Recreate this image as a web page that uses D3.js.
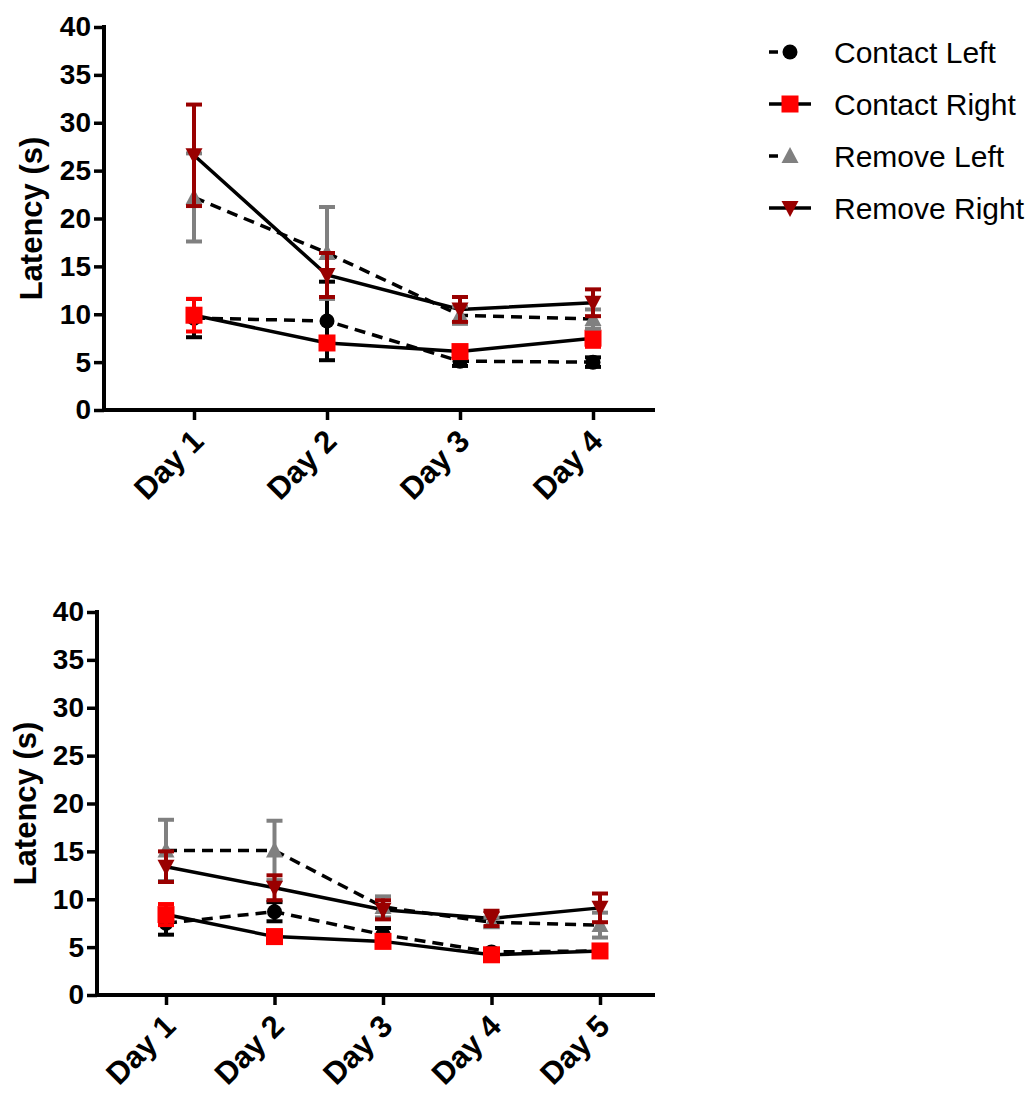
<!DOCTYPE html>
<html>
<head>
<meta charset="utf-8">
<script src="https://cdn.jsdelivr.net/npm/d3@7"></script>
<style>
	body { margin: 0; background: #fff; }
	svg { display: block; font-family: 'Liberation Sans', Arial, sans-serif; }
</style>
</head>
<body>
<svg id="chart" width="1029" height="1099"></svg>
<script>
// Top panel (4 days)
const daysTop = ['Day 1', 'Day 2', 'Day 3', 'Day 4'];
const topContactLeft = [9.6, 9.3, 5.1, 5.0];
const topContactLeftErr = [2.0, 4.1, 0.5, 0.5];
const topContactRight = [9.9, 7.0, 6.1, 7.5];
const topContactRightErr = [1.7, 0.6, 0.6, 0.9];
const topRemoveLeft = [22.2, 16.4, 9.9, 9.5];
const topRemoveLeftErr = [4.6, 4.8, 0.9, 1.0];
const topRemoveRight = [26.6, 14.1, 10.5, 11.2];
const topRemoveRightErr = [5.3, 2.3, 1.3, 1.4];

// Bottom panel (5 days)
const daysBottom = ['Day 1', 'Day 2', 'Day 3', 'Day 4', 'Day 5'];
const botContactLeft = [7.5, 8.7, 6.3, 4.5, 4.6];
const botContactLeftErr = [1.2, 1.0, 0.7, 0.3, 0.3];
const botContactRight = [8.4, 6.1, 5.6, 4.2, 4.6];
const botContactRightErr = [1.1, 0.6, 0.4, 0.4, 0.4];
const botRemoveLeft = [15.1, 15.1, 9.2, 7.6, 7.3];
const botRemoveLeftErr = [3.2, 3.1, 1.1, 0.5, 1.3];
const botRemoveRight = [13.4, 11.2, 8.9, 8.0, 9.1];
const botRemoveRightErr = [1.6, 1.3, 1.0, 0.8, 1.5];

const yTicks = [0, 5, 10, 15, 20, 25, 30, 35, 40];
const seriesNames = ['Contact Left', 'Contact Right', 'Remove Left', 'Remove Right'];
const seriesColors = ['#000000', '#ff0000', '#808080', '#990000'];
const seriesShapes = ['circle', 'square', 'up', 'down'];
const seriesDashed = [true, false, true, false];

const svg = d3.select('#chart');

function marker(g, shape, x, y, color) {
	if (shape === 'circle') {
		g.append('circle').attr('cx', x).attr('cy', y).attr('r', 7.5).attr('fill', color);
	} else if (shape === 'square') {
		g.append('rect').attr('x', x - 8.5).attr('y', y - 8.5).attr('width', 17).attr('height', 17).attr('fill', color);
	} else if (shape === 'up') {
		g.append('path').attr('d', `M${x},${y - 9} L${x + 8.5},${y + 7} L${x - 8.5},${y + 7} Z`).attr('fill', color);
	} else {
		g.append('path').attr('d', `M${x},${y + 9} L${x + 8.5},${y - 7} L${x - 8.5},${y - 7} Z`).attr('fill', color);
	}
}

function panel(opts) {
	const { days, series, errs, axisX, axisEnd, xRange, yRange, labelX } = opts;
	const x = d3.scalePoint().domain(days).range(xRange);
	const y = d3.scaleLinear().domain([0, 40]).range(yRange);
	const g = svg.append('g');

	// y axis
	const yAxis = g.append('g')
		.attr('transform', `translate(${axisX},0)`)
		.call(d3.axisLeft(y).tickValues(yTicks).tickSize(10).tickSizeOuter(0).tickPadding(3));
	yAxis.select('.domain').attr('stroke-width', 4).attr('d', `M0,${yRange[1] - 2}V${yRange[0]}`);
	yAxis.selectAll('.tick line').attr('stroke-width', 3.5);
	yAxis.selectAll('.tick text').attr('font-size', 28).attr('font-weight', 'bold').attr('fill', '#000')
		.attr('font-family', 'Liberation Sans, Arial, sans-serif');

	// x axis
	const xAxis = g.append('g')
		.attr('transform', `translate(0,${yRange[0]})`)
		.call(d3.axisBottom(x).tickSize(10).tickSizeOuter(0));
	xAxis.select('.domain').attr('stroke-width', 4).attr('d', `M${axisX - 2},0H${axisEnd}`);
	xAxis.selectAll('.tick line').attr('stroke-width', 3.5);
	xAxis.selectAll('.tick text')
		.attr('font-size', 31).attr('font-weight', 'bold').attr('fill', '#000')
		.attr('font-family', 'Liberation Sans, Arial, sans-serif')
		.attr('text-anchor', 'end')
		.attr('y', 0)
		.attr('dy', 0)
		.attr('transform', 'translate(11,33) rotate(-45)');

	// axis title
	g.append('text')
		.attr('transform', `translate(${labelX},${(yRange[0] + yRange[1]) / 2}) rotate(-90)`)
		.attr('text-anchor', 'middle')
		.attr('font-size', 31).attr('font-weight', 'bold')
		.text('Latency (s)');

	const line = d3.line().x((d, i) => x(days[i])).y(d => y(d));

	// lines
	series.forEach((vals, s) => {
		g.append('path')
			.attr('d', line(vals))
			.attr('fill', 'none')
			.attr('stroke', '#000')
			.attr('stroke-width', 3.5)
			.attr('stroke-dasharray', seriesDashed[s] ? '11,7' : null);
	});

	// error bars and markers
	series.forEach((vals, s) => {
		const c = seriesColors[s];
		vals.forEach((v, i) => {
			const cx = x(days[i]);
			const e = errs[s][i];
			const top = y(v + e), bot = y(v - e);
			g.append('line').attr('x1', cx).attr('x2', cx).attr('y1', top).attr('y2', bot)
				.attr('stroke', c).attr('stroke-width', 4);
			[top, bot].forEach(yy => {
				g.append('line').attr('x1', cx - 8).attr('x2', cx + 8).attr('y1', yy).attr('y2', yy)
					.attr('stroke', c).attr('stroke-width', 4);
			});
			marker(g, seriesShapes[s], cx, y(v), c);
		});
	});
}

panel({
	days: daysTop,
	series: [topContactLeft, topContactRight, topRemoveLeft, topRemoveRight],
	errs: [topContactLeftErr, topContactRightErr, topRemoveLeftErr, topRemoveRightErr],
	axisX: 104, axisEnd: 655,
	xRange: [194, 593], yRange: [410, 27],
	labelX: 42
});

panel({
	days: daysBottom,
	series: [botContactLeft, botContactRight, botRemoveLeft, botRemoveRight],
	errs: [botContactLeftErr, botContactRightErr, botRemoveLeftErr, botRemoveRightErr],
	axisX: 97, axisEnd: 655,
	xRange: [166, 600], yRange: [995, 612],
	labelX: 36
});

// legend
const legend = svg.append('g');
seriesNames.forEach((name, i) => {
	const ly = 52 + i * 52;
	legend.append('line')
		.attr('x1', 769).attr('x2', 811).attr('y1', ly).attr('y2', ly)
		.attr('stroke', '#000').attr('stroke-width', 3.5)
		.attr('stroke-dasharray', seriesDashed[i] ? '9,11,4,20' : null);
	marker(legend, seriesShapes[i], 790, ly, seriesColors[i]);
	legend.append('text')
		.attr('x', 834).attr('y', ly).attr('dy', '0.36em')
		.attr('font-size', 30)
		.text(name);
});
</script>
</body>
</html>
